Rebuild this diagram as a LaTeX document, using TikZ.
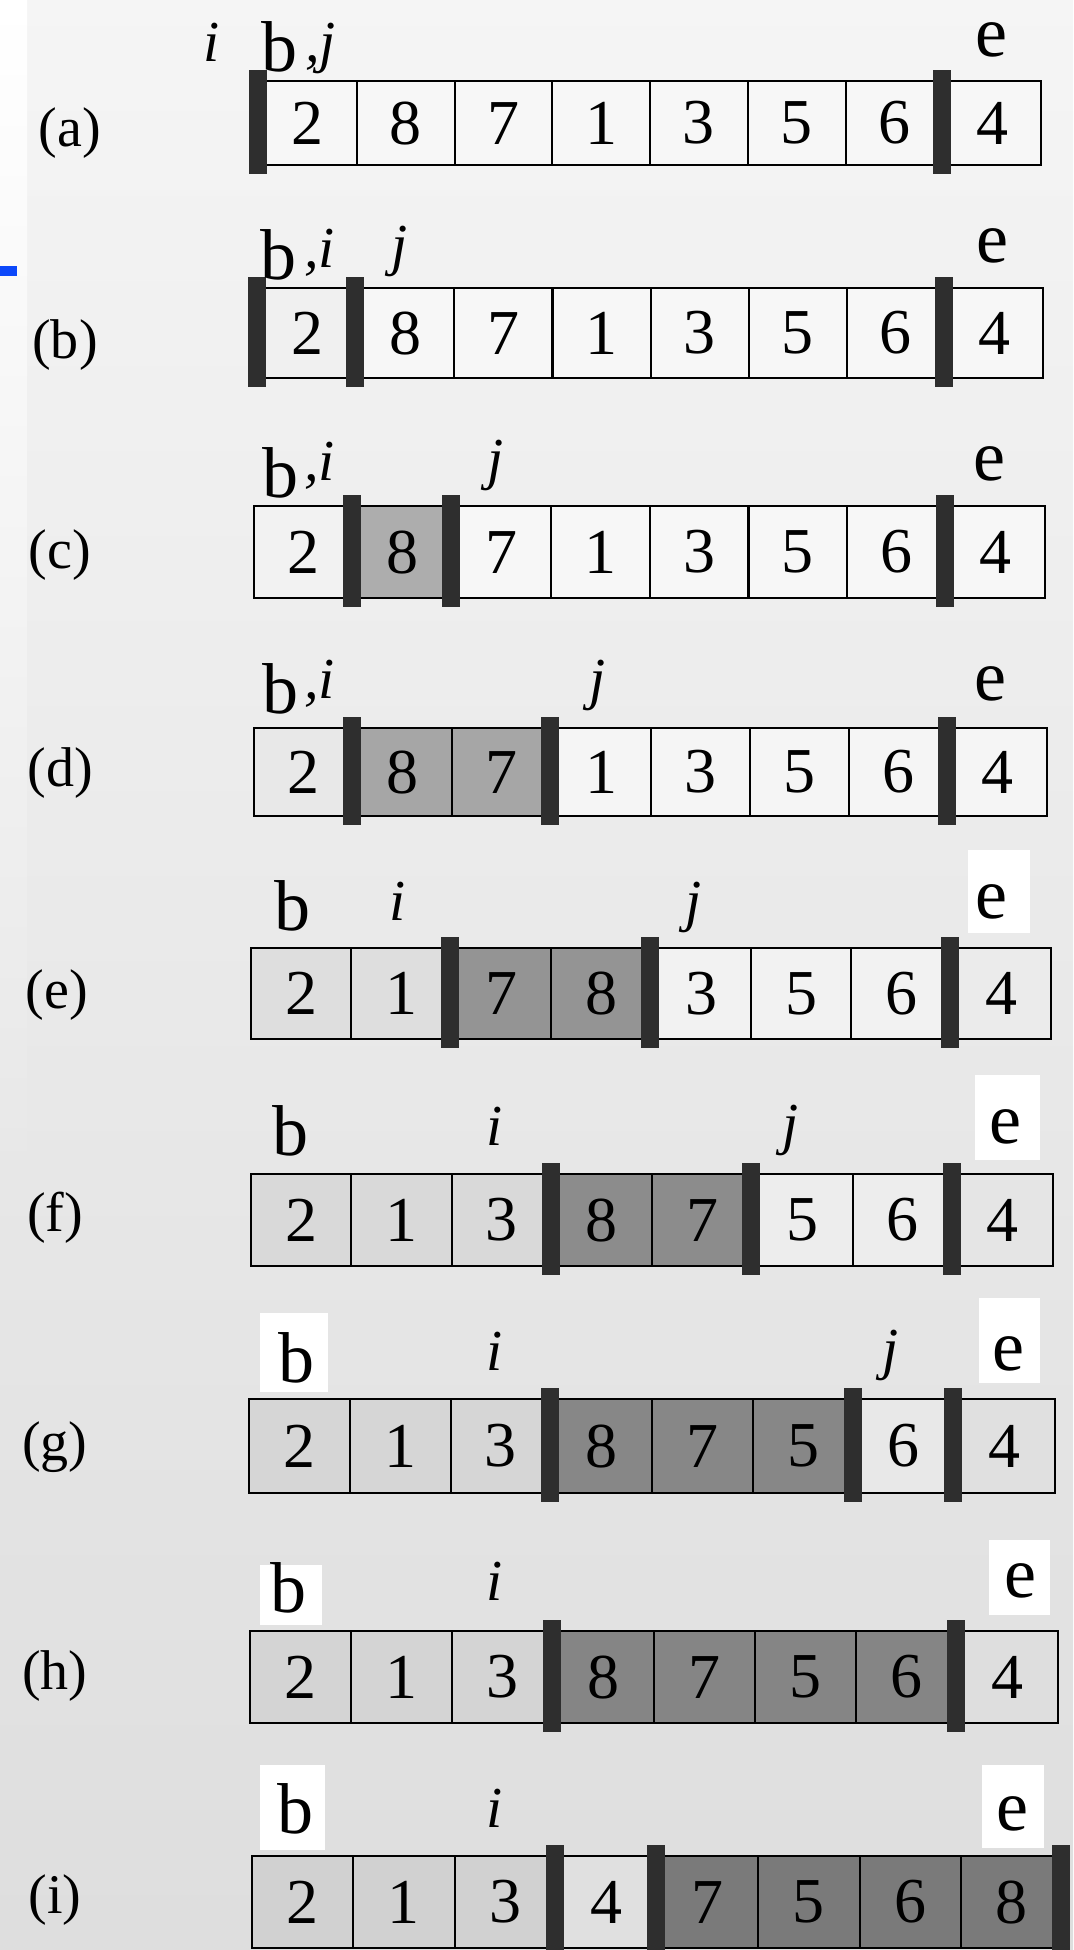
\documentclass[tikz,border=0pt]{standalone}
\usepackage{fontspec}
\setmainfont{Liberation Serif}
\definecolor{bluemark}{RGB}{12,72,250}
\newcommand{\cellrow}[7]{%
  \pgfmathsetmacro{\cw}{(#5-#4)/8}%
  \pgfmathsetmacro{\ch}{#3-#2}%
  \pgfmathsetmacro{\cy}{(#2+#3)/2}%
  \foreach \v/\f [count=\k from 0] in {#6} {
    \node[cellbox, fill=\f, minimum width=\cw pt, minimum height=\ch pt] (#1c\k) at ({#4+\k*\cw}, #2) {\v};
  }
  \foreach \b in {#7} {
    \node[barbox, minimum height={\ch+20}] (#1b\b) at ({#4+\b*\cw}, \cy) {};
  }
}
\begin{document}
\begin{tikzpicture}[x=1pt,y=-1pt,
  cellbox/.style={draw=black, line width=2.2pt, inner sep=0pt, anchor=north west, font=\fontsize{64}{64}\selectfont},
  barbox/.style={fill=black!82, draw=none, inner sep=0pt, minimum width=18pt},
  lblb/.style={inner sep=0pt, anchor=base, font=\fontsize{72}{72}\selectfont},
  lbli/.style={inner sep=0pt, anchor=base, font=\fontsize{58}{58}\selectfont\itshape},
  lblij/.style={inner sep=0pt, anchor=base west, font=\fontsize{58}{58}\selectfont\itshape},
  rowlbl/.style={inner sep=0pt, font=\fontsize{56}{56}\selectfont},
  patch/.style={fill=white, draw=none}
]
\shade[top color=black!4, bottom color=black!13] (0,0) rectangle (1073,1950);
\useasboundingbox (0,0) rectangle (1073,1950);
\shade[top color=white, bottom color=black!9] (0,0) rectangle (27,1150);
\fill[bluemark] (0,266) rectangle (17,276);

% rows
\cellrow{a}{80}{164}{258}{1040}{2/black!3,8/black!3,7/black!3,1/black!3,3/black!3,5/black!3,6/black!3,4/black!3}{0,7}
\cellrow{b}{287}{377}{257}{1042}{2/black!6,8/black!3,7/black!3,1/black!3,3/black!3,5/black!3,6/black!3,4/black!3}{0,1,7}
\cellrow{c}{505}{597}{253}{1044}{2/black!5,8/black!32,7/black!3,1/black!3,3/black!3,5/black!3,6/black!3,4/black!3}{1,2,7}
\cellrow{d}{727}{815}{253}{1046}{2/black!9,8/black!35,7/black!35,1/black!4,3/black!4,5/black!4,6/black!4,4/black!4}{1,3,7}
\cellrow{e}{947}{1038}{250}{1050}{2/black!13,1/black!13,7/black!42,8/black!42,3/black!5,5/black!5,6/black!5,4/black!8}{2,4,7}
\cellrow{f}{1173}{1265}{250}{1052}{2/black!15,1/black!15,3/black!15,8/black!45,7/black!45,5/black!7,6/black!7,4/black!10}{3,5,7}
\cellrow{g}{1398}{1492}{248}{1054}{2/black!16,1/black!16,3/black!16,8/black!47,7/black!47,5/black!47,6/black!9,4/black!12}{3,6,7}
\cellrow{h}{1630}{1722}{249}{1057}{2/black!17,1/black!17,3/black!17,8/black!48,7/black!48,5/black!48,6/black!48,4/black!13}{3,7}
\cellrow{i}{1855}{1947}{251}{1061}{2/black!18,1/black!18,3/black!18,4/black!12,7/black!52,5/black!52,6/black!52,8/black!52}{3,4,8}

% white patches behind labels
\fill[patch] (968,850) rectangle (1030,933);
\fill[patch] (975,1075) rectangle (1040,1160);
\fill[patch] (979,1298) rectangle (1040,1383);
\fill[patch] (260,1313) rectangle (328,1392);
\fill[patch] (989,1540) rectangle (1050,1615);
\fill[patch] (260,1565) rectangle (322,1625);
\fill[patch] (260,1765) rectangle (325,1850);
\fill[patch] (982,1765) rectangle (1044,1848);

% labels (a)
\node[lbli] (ai) at (212,62) {i};
\node[lblb] (ab) at (279,72) {b};
\node[lblij] (aj) at (305,62) {,j};
\node[lblb] (ae) at (991,57) {e};
% (b)
\node[lblb] (bb) at (278,280) {b};
\node[lblij] (bi) at (304,268) {,i};
\node[lbli] (bj) at (400,265) {j};
\node[lblb] (be) at (992,263) {e};
% (c)
\node[lblb] (cb) at (280,497) {b};
\node[lblij] (ci) at (304,480) {,i};
\node[lbli] (cj) at (496,478) {j};
\node[lblb] (ce) at (989,480) {e};
% (d)
\node[lblb] (db) at (280,713) {b};
\node[lblij] (di) at (304,698) {,i};
\node[lbli] (dj) at (598,698) {j};
\node[lblb] (de) at (990,700) {e};
% (e)
\node[lblb] (eb) at (292,930) {b};
\node[lbli] (ei) at (398,920) {i};
\node[lbli] (ej) at (694,920) {j};
\node[lblb] (ee) at (991,918) {e};
% (f)
\node[lblb] (fb) at (290,1155) {b};
\node[lbli] (fi) at (495,1145) {i};
\node[lbli] (fj) at (791,1143) {j};
\node[lblb] (fe) at (1005,1143) {e};
% (g)
\node[lblb] (gb) at (296,1382) {b};
\node[lbli] (gi) at (495,1370) {i};
\node[lbli] (gj) at (891,1368) {j};
\node[lblb] (ge) at (1008,1370) {e};
% (h)
\node[lblb] (hb) at (288,1612) {b};
\node[lbli] (hi) at (495,1600) {i};
\node[lblb] (he) at (1020,1597) {e};
% (i)
\node[lblb] (ib) at (295,1833) {b};
\node[lbli] (ii) at (495,1827) {i};
\node[lblb] (ie) at (1012,1830) {e};

% row labels
\node[rowlbl] (la) at (70,133) {(a)};
\node[rowlbl] (lb) at (65,345) {(b)};
\node[rowlbl] (lc) at (60,555) {(c)};
\node[rowlbl] (ld) at (60,773) {(d)};
\node[rowlbl] (le) at (57,995) {(e)};
\node[rowlbl] (lf) at (55,1218) {(f)};
\node[rowlbl] (lg) at (55,1447) {(g)};
\node[rowlbl] (lh) at (55,1676) {(h)};
\node[rowlbl] (li) at (55,1900) {(i)};
\end{tikzpicture}
\end{document}
